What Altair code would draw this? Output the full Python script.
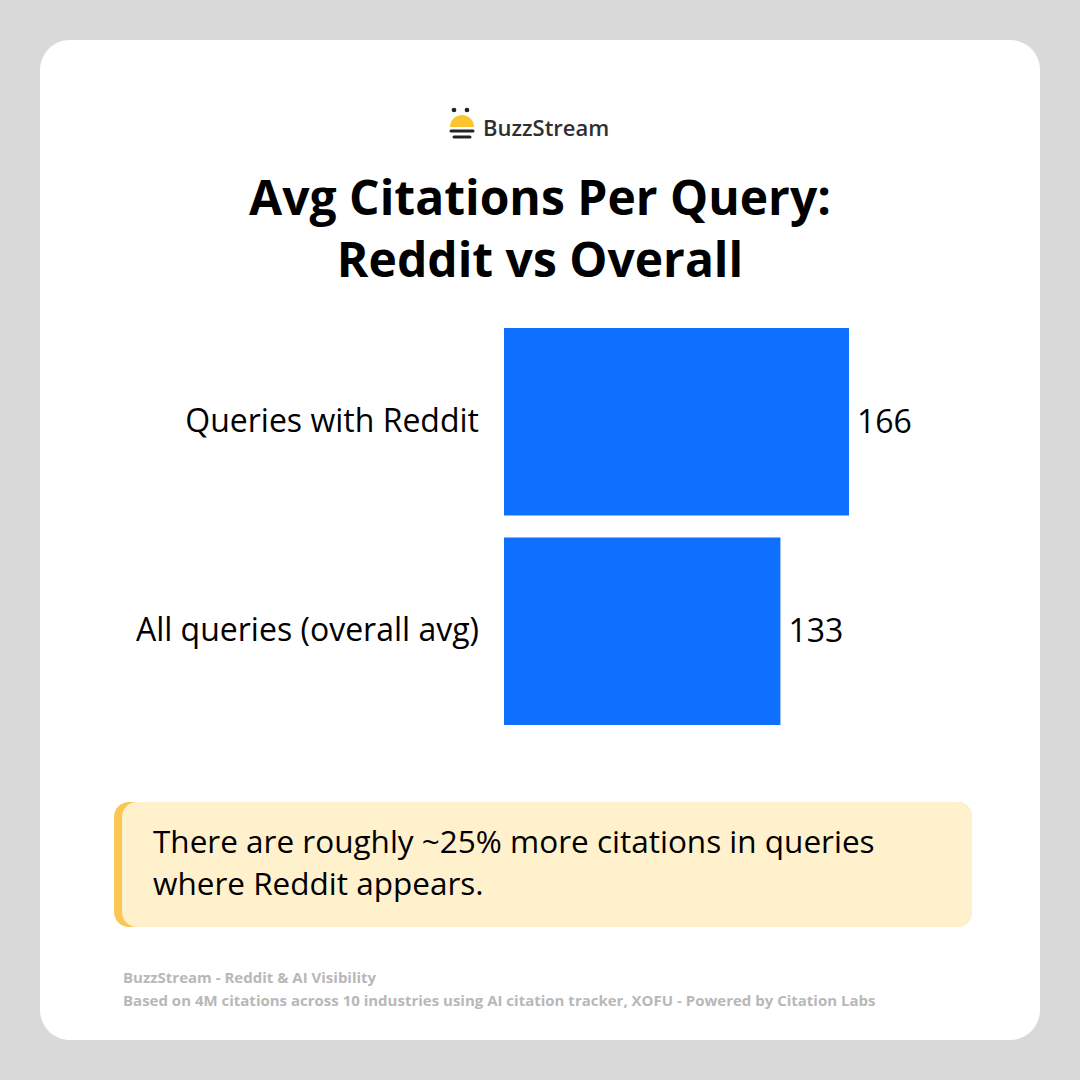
import altair as alt
import pandas as pd

categories = ["Queries with Reddit", "All queries (overall avg)"]
values = [166, 133]

title_lines = ["Avg Citations Per Query:", "Reddit vs Overall"]
callout_lines = ["There are roughly ~25% more citations in queries", "where Reddit appears."]
footer_lines = ["BuzzStream - Reddit & AI Visibility",
                "Based on 4M citations across 10 industries using AI citation tracker, XOFU - Powered by Citation Labs"]
brand = "BuzzStream"

FONT = "Open Sans"
df = pd.DataFrame({"category": categories, "value": values})
one = pd.DataFrame({"a": [0]})


def rect(x, x2, y, y2, **kw):
    return alt.Chart(one).mark_rect(**kw).encode(
        x=alt.value(x), x2=alt.value(x2), y=alt.value(y), y2=alt.value(y2))


def text(s, x, y, **kw):
    return alt.Chart(pd.DataFrame({"t": [s]})).mark_text(font=FONT, **kw).encode(
        x=alt.value(x), y=alt.value(y), text="t:N")


card = rect(40, 1040, 40, 1040, color="white", cornerRadius=30)

# logo
dots = alt.Chart(pd.DataFrame({"px": [454, 467]})).mark_circle(color="#222222", opacity=1, size=22).encode(
    x=alt.X("px:Q", scale=None), y=alt.value(110))
dome = alt.Chart(one).mark_arc(color="#fcc52f", theta=4.712389, theta2=7.853982, outerRadius=12).encode(
    x=alt.value(462), y=alt.value(127))
stripe1 = alt.Chart(one).mark_rule(color="#222222", strokeWidth=3, strokeCap="round").encode(
    x=alt.value(451), x2=alt.value(473), y=alt.value(131))
stripe2 = alt.Chart(one).mark_rule(color="#222222", strokeWidth=3, strokeCap="round").encode(
    x=alt.value(454), x2=alt.value(470), y=alt.value(137))
brand_t = text(brand, 483, 129, align="left", baseline="middle", fontSize=22, fontWeight=600, color="#2f2f33")

t1 = text(title_lines[0], 540, 215, align="center", baseline="alphabetic", fontSize=48, fontWeight="bold", color="black")
t2 = text(title_lines[1], 540, 277, align="center", baseline="alphabetic", fontSize=48, fontWeight="bold", color="black")

xs = alt.Scale(domain=[0, 166], range=[504, 849], nice=False, zero=True)
ys = alt.Scale(domain=categories, range=[328, 725], paddingInner=0.105, paddingOuter=0)

bars = alt.Chart(df).mark_bar(color="#0f6fff").encode(
    x=alt.X("value:Q", scale=xs, axis=None),
    y=alt.Y("category:N", scale=ys, axis=None, sort=categories))
vlabels = alt.Chart(df).mark_text(font=FONT, align="left", baseline="middle", dx=8, dy=1, fontSize=32, color="black").encode(
    x=alt.X("value:Q", scale=xs, axis=None),
    y=alt.Y("category:N", scale=ys, axis=None, sort=categories),
    text="value:Q")
clabels = alt.Chart(df).mark_text(font=FONT, align="right", baseline="middle", fontSize=32, color="black").encode(
    x=alt.value(479),
    y=alt.Y("category:N", scale=ys, axis=None, sort=categories),
    text="category:N")

box_outer = rect(114, 972, 802, 927, color="#fcc655", cornerRadius=15)
box_inner = rect(122, 972, 802, 927, color="#fff1cc", cornerRadius=15)
c1 = text(callout_lines[0], 153, 853, align="left", baseline="alphabetic", fontSize=31.5, color="black")
c2 = text(callout_lines[1], 153, 895, align="left", baseline="alphabetic", fontSize=31.5, color="black")

f1 = text(footer_lines[0], 123, 983, align="left", baseline="alphabetic", fontSize=15, fontWeight="bold", color="#b8b8b8")
f2 = text(footer_lines[1], 123, 1006, align="left", baseline="alphabetic", fontSize=15, fontWeight="bold", color="#b8b8b8")

chart = alt.layer(
    card, dots, dome, stripe1, stripe2, brand_t, t1, t2,
    bars, vlabels, clabels, box_outer, box_inner, c1, c2, f1, f2
).properties(
    width=1080, height=1080, padding=0, background="#d9d9d9",
    autosize=alt.AutoSizeParams(type="none")
).configure_view(stroke=None)

chart.save("out.html", embed_options={"renderer": "svg", "actions": False})
